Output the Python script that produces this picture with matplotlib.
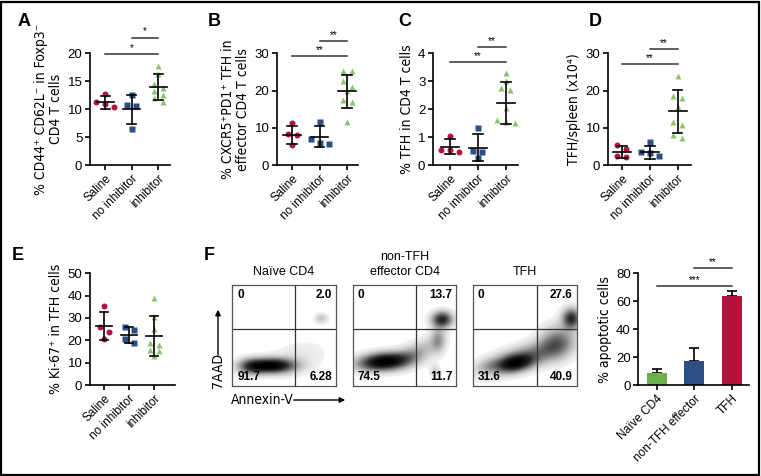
import numpy as np
import matplotlib
matplotlib.use("Agg")
import matplotlib.pyplot as plt
from matplotlib.patches import Rectangle, FancyArrowPatch
from matplotlib.colors import LinearSegmentedColormap
from matplotlib import font_manager as fm

FONT = ["Liberation Sans", "DejaVu Sans"]
plt.rcParams["font.family"] = FONT

# look for an installed condensed / narrow sans font for the axis titles
_narrow = None
for f in fm.fontManager.ttflist:
    nm = (f.fname + " " + f.name).lower()
    if ("narrow" in nm or "condensed" in nm) and f.style == "normal" and f.weight in (400, "normal", "regular") \
            and "mono" not in nm and "serif" not in nm.replace("sans", ""):
        _narrow = f.fname
        break


def narrow_kw(size):
    if _narrow:
        return dict(fontproperties=fm.FontProperties(fname=_narrow, size=size))
    return dict(family=FONT, fontsize=size * 0.86)


groups = ["Saline", "no inhibitor", "inhibitor"]
group_colors = ["#b3123c", "#2c4e85", "#8cc46a"]
group_markers = ["o", "s", "^"]

# ---- panel A ----
a_vals = [[12.7, 11.2, 11.0, 10.3],
          [12.5, 10.7, 10.5, 6.4],
          [17.8, 16.3, 14.5, 13.8, 13.2, 12.6, 12.0, 11.3]]
a_mean = [11.2, 10.0, 14.0]
a_sd = [1.1, 2.6, 2.3]
a_sig = [(0, 2, 19.8, "*"), (1, 2, 22.8, "*")]
# ---- panel B ----
b_vals = [[11.2, 8.2, 8.0, 5.4],
          [11.6, 7.0, 6.0, 5.6],
          [25.3, 25.2, 22.5, 21.0, 19.8, 17.5, 17.0, 11.6]]
b_mean = [8.1, 7.6, 19.8]
b_sd = [2.5, 2.8, 4.5]
b_sig = [(0, 2, 29.3, "**"), (1, 2, 33.3, "**")]
# ---- panel C ----
c_vals = [[1.05, 0.55, 0.52, 0.45],
          [1.33, 0.5, 0.45, 0.24],
          [3.3, 3.0, 2.75, 2.7, 2.05, 1.6, 1.55, 1.5]]
c_mean = [0.66, 0.62, 2.22]
c_sd = [0.27, 0.48, 0.75]
c_sig = [(0, 2, 3.68, "**"), (1, 2, 4.22, "**")]
# ---- panel D ----
d_vals = [[5.4, 4.2, 2.3, 2.2],
          [6.1, 3.4, 3.3, 2.4],
          [23.9, 18.6, 17.9, 15.7, 11.6, 10.7, 8.1, 7.3]]
d_mean = [3.5, 3.4, 14.4]
d_sd = [1.5, 1.8, 5.7]
d_sig = [(0, 2, 27.1, "**"), (1, 2, 31.2, "**")]
# ---- panel E ----
e_vals = [[35.5, 25.8, 23.6, 20.4],
          [26.0, 24.5, 20.5, 18.6],
          [38.8, 30.3, 25.1, 18.7, 18.0, 15.7, 15.2, 13.0]]
e_mean = [26.4, 22.4, 22.0]
e_sd = [6.4, 3.5, 9.0]
# ---- panel F (bars) ----
f_groups = ["Naïve CD4", "non-TFH effector", "TFH"]
f_colors = ["#6db04b", "#2c4e85", "#b3123c"]
f_vals = [8.4, 17.0, 63.7]
f_err = [2.8, 9.3, 3.6]
f_sig = [(0, 2, 70.9, "***"), (1, 2, 84.0, "**")]
# ---- flow plots ----
flow_titles = ["Naïve CD4", "non-TFH\neffector CD4", "TFH"]
flow_quads = [["0", "2.0", "91.7", "6.28"],
              ["0", "13.7", "74.5", "11.7"],
              ["0", "27.6", "31.6", "40.9"]]
flow_gate_x = [0.61, 0.615, 0.62]
flow_gate_y = 0.56
# density blobs: cx, cy, sx, sy, angle, weight
flow_blobs = [
    [(0.38, 0.20, 0.15, 0.05, 0, 1.0), (0.18, 0.19, 0.09, 0.055, 0, 0.45),
     (0.62, 0.27, 0.20, 0.11, 15, 0.10), (0.86, 0.67, 0.045, 0.035, 0, 0.22)],
    [(0.30, 0.24, 0.17, 0.06, 5, 1.0), (0.62, 0.34, 0.15, 0.07, 25, 0.25),
     (0.86, 0.66, 0.07, 0.055, 0, 0.7), (0.82, 0.46, 0.05, 0.09, 0, 0.3),
     (0.79, 0.14, 0.035, 0.045, 0, 0.18)],
    [(0.48, 0.28, 0.26, 0.08, 18, 0.65), (0.40, 0.22, 0.12, 0.055, 10, 0.95),
     (0.80, 0.43, 0.12, 0.11, 55, 0.6), (0.94, 0.67, 0.06, 0.07, 0, 1.0),
     (0.13, 0.2, 0.08, 0.05, 15, 0.2)],
]

W, H = 761, 476
fig = plt.figure(figsize=(W / 100, H / 100), dpi=100)


def px_axes(left, right, top, bottom):
    return fig.add_axes([left / W, 1 - bottom / H, (right - left) / W, (bottom - top) / H])


def style(ax):
    for s in ["top", "right"]:
        ax.spines[s].set_visible(False)
    for s in ["left", "bottom"]:
        ax.spines[s].set_linewidth(1.2)
    ax.tick_params(width=1.2, length=3.5, labelsize=9.5, pad=2)


def swarm(vals, ax, xlim, ylim, row_px=6.0, gap_px=9.0):
    """Prism-style scatter: points with close values share a row, spread symmetrically."""
    bb = ax.get_position()
    xs = bb.width * W / (xlim[1] - xlim[0])
    ys = bb.height * H / (ylim[1] - ylim[0])
    order = np.argsort(vals)[::-1]
    rows = []
    for idx in order:
        v = vals[idx]
        if rows and abs(vals[rows[-1][0]] - v) * ys < row_px:
            rows[-1].append(idx)
        else:
            rows.append([idx])
    offs = np.zeros(len(vals))
    for r in rows:
        n = len(r)
        for j, idx in enumerate(r):
            offs[idx] = (j - (n - 1) / 2) * gap_px / xs
    return offs


def add_sig(ax, sig, ylim):
    dy = (ylim[1] - ylim[0]) * 0.01
    for (x1, x2, y, t) in sig:
        ax.plot([x1, x2], [y, y], color="#333333", lw=1.1, clip_on=False)
        ax.text((x1 + x2) / 2, y + dy, t, ha="center", va="bottom", fontsize=7)


def scatter_panel(ax, vals, means, sds, ylim, yticks, xlim, ylabel, sig=None):
    style(ax)
    ax.set_xlim(*xlim)
    ax.set_ylim(*ylim)
    ax.set_yticks(yticks)
    for i, v in enumerate(vals):
        offs = swarm(v, ax, xlim, ylim)
        ax.plot(offs + i, v, linestyle="none", marker=group_markers[i],
                color=group_colors[i], ms=4.3, mec="none", clip_on=False, zorder=2)
        m, s = means[i], sds[i]
        ax.plot([i - 0.32, i + 0.32], [m, m], color="black", lw=1.2, zorder=3)
        ax.plot([i, i], [m - s, m + s], color="black", lw=1.2, zorder=3)
        ax.plot([i - 0.17, i + 0.17], [m + s, m + s], color="black", lw=1.2, zorder=3)
        ax.plot([i - 0.17, i + 0.17], [m - s, m - s], color="black", lw=1.2, zorder=3)
    ax.set_xticks(range(len(groups)))
    ax.set_xticklabels(groups, rotation=45, ha="right", rotation_mode="anchor", fontsize=8.5)
    ax.set_ylabel(ylabel, labelpad=3, linespacing=1.15, **narrow_kw(10))
    if sig:
        add_sig(ax, sig, ylim)


axA = px_axes(90, 170, 53.3, 165)
scatter_panel(axA, a_vals, a_mean, a_sd, (0, 20), [0, 5, 10, 15, 20], (-0.58, 2.45),
              "% CD44⁺ CD62L⁻ in Foxp3⁻\nCD4 T cells", a_sig)
axB = px_axes(277, 358, 53.3, 165)
scatter_panel(axB, b_vals, b_mean, b_sd, (0, 30), [0, 10, 20, 30], (-0.55, 2.4),
              "% CXCR5⁺PD1⁺ TFH in\neffector CD4 T cells", b_sig)
axC = px_axes(433, 518, 53.3, 165)
scatter_panel(axC, c_vals, c_mean, c_sd, (0, 4), [0, 1, 2, 3, 4], (-0.6, 2.43),
              "% TFH in CD4 T cells", c_sig)
axD = px_axes(608, 691, 53.3, 165)
scatter_panel(axD, d_vals, d_mean, d_sd, (0, 30), [0, 10, 20, 30], (-0.5, 2.48),
              "TFH/spleen (x10⁴)", d_sig)
axE = px_axes(90, 175, 273.3, 385)
scatter_panel(axE, e_vals, e_mean, e_sd, (0, 50), [0, 10, 20, 30, 40, 50], (-0.56, 2.84),
              "% Ki-67⁺ in TFH cells")

# bar panel
axF = px_axes(638.3, 749, 273.3, 385)
style(axF)
xb = np.arange(len(f_groups))
axF.bar(xb, f_vals, width=0.53, color=f_colors, edgecolor="none", zorder=2)
axF.errorbar(xb, f_vals, yerr=[np.zeros(3), f_err], fmt="none", ecolor="black",
             elinewidth=1.2, capsize=3.5, capthick=1.2, zorder=1)
axF.set_xlim(-0.49, 2.46)
axF.set_ylim(0, 80)
axF.set_yticks([0, 20, 40, 60, 80])
axF.set_xticks(xb)
axF.set_xticklabels(f_groups, rotation=45, ha="right", rotation_mode="anchor", fontsize=8.5)
axF.set_ylabel("% apoptotic cells", labelpad=3, **narrow_kw(10))
add_sig(axF, f_sig, (0, 80))

# flow density plots
cmap = LinearSegmentedColormap.from_list(
    "flow", ["#ffffff", "#e6e6e6", "#b5b5b5", "#6e6e6e", "#262626", "#000000"])
box_lefts = [232, 352.5, 472.7]
n = 220
u = np.linspace(0, 1, n)
U, V = np.meshgrid(u, u)
for k in range(3):
    ax = px_axes(box_lefts[k], box_lefts[k] + 104, 285, 386)
    dens = np.zeros_like(U)
    for (cx, cy, sx, sy, ang, w) in flow_blobs[k]:
        a = np.deg2rad(ang)
        du = (U - cx) * np.cos(a) + (V - cy) * np.sin(a)
        dv = -(U - cx) * np.sin(a) + (V - cy) * np.cos(a)
        dens += w * np.exp(-0.5 * ((du / sx) ** 2 + (dv / sy) ** 2))
    dens = dens / dens.max()
    dens = np.where(dens < 0.035, 0, dens ** 0.7)
    ax.imshow(dens, origin="lower", extent=(0, 1, 0, 1), cmap=cmap, vmin=0, vmax=0.95,
              aspect="auto", interpolation="bilinear")
    ax.set_xlim(0, 1)
    ax.set_ylim(0, 1)
    ax.set_xticks([])
    ax.set_yticks([])
    for s in ax.spines.values():
        s.set_linewidth(0.9)
        s.set_color("#555555")
    ax.axvline(flow_gate_x[k], color="#333333", lw=0.9)
    ax.axhline(flow_gate_y, color="#333333", lw=0.9)
    q = flow_quads[k]
    kw = dict(fontsize=8.5, fontweight="bold", transform=ax.transAxes)
    ax.text(0.05, 0.96, q[0], ha="left", va="top", **kw)
    ax.text(0.96, 0.96, q[1], ha="right", va="top", **kw)
    ax.text(0.05, 0.03, q[2], ha="left", va="bottom", **kw)
    ax.text(0.96, 0.03, q[3], ha="right", va="bottom", **kw)
    ax.text(0.5, 1.07, flow_titles[k], ha="center", va="bottom", fontsize=9,
            transform=ax.transAxes, linespacing=1.3)

# axis arrows for flow plots
fig.text(218 / W, 1 - 371 / H, "7AAD", rotation=90, ha="center", va="center", **narrow_kw(10))
fig.add_artist(FancyArrowPatch((218 / W, 1 - 358 / H), (218 / W, 1 - 307 / H),
               transform=fig.transFigure, arrowstyle="-|>", mutation_scale=8, lw=1, color="black"))
fig.text(231 / W, 1 - 400 / H, "Annexin-V", ha="left", va="center", **narrow_kw(10))
fig.add_artist(FancyArrowPatch((291 / W, 1 - 400 / H), (348 / W, 1 - 400 / H),
               transform=fig.transFigure, arrowstyle="-|>", mutation_scale=8, lw=1, color="black"))

# panel letters
letters = [("A", 18, 22), ("B", 208, 22), ("C", 398, 22), ("D", 589, 22), ("E", 12, 256), ("F", 204, 256)]
for t, x, y in letters:
    fig.text(x / W, 1 - y / H, t, fontsize=13, fontweight="bold", ha="left", va="center")

# outer frame
fig.add_artist(Rectangle((1 / W, 1 / H), (W - 3) / W, (H - 2.5) / H, transform=fig.transFigure,
                         fill=False, lw=1.6, edgecolor="black"))

fig.savefig("out.png", dpi=100)
